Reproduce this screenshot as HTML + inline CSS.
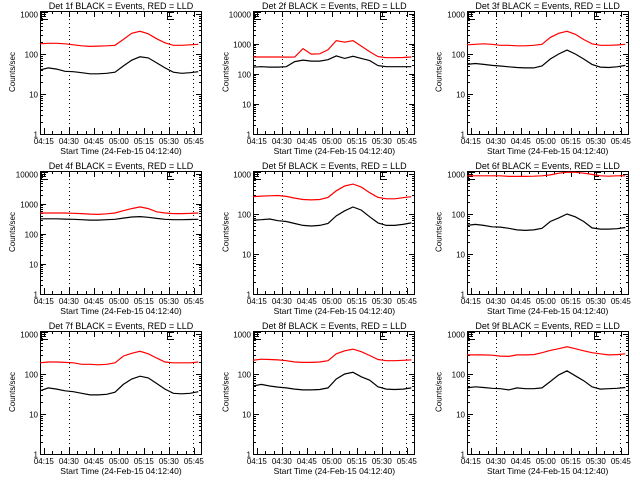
<!DOCTYPE html>
<html><head><meta charset="utf-8"><style>
html,body{margin:0;padding:0;background:#fff;}
svg text{font-family:"Liberation Sans",sans-serif;fill:#000;}
</style></head><body>
<svg id="chart" width="640" height="480" viewBox="0 0 640 480" xmlns="http://www.w3.org/2000/svg" shape-rendering="crispEdges">
<rect width="640" height="480" fill="#fff"/>
</svg>
<script>
// time samples: minutes after 04:12:40
const times = [0,5,10,15,20,25,30,35,40,45,50,55,60,65,70,75,80,85,90,95];
const xTickLabels = ["04:15","04:30","04:45","05:00","05:15","05:30","05:45"];
const xTickMinutes = [2.33,17.33,32.33,47.33,62.33,77.33,92.33];
const detNames = ["1f","2f","3f","4f","5f","6f","7f","8f","9f"];
const decades = [3,4,3,4,3,3,3,3,3];
const red1 = [180,185,185,180,170,160,155,158,160,165,230,330,370,320,240,190,165,165,170,175];
const blk1 = [40,45,42,37,36,34,32,32,33,35,50,70,85,80,60,45,35,33,34,36];
const red2 = [370,370,370,370,365,370,700,460,470,640,1300,1150,1300,850,550,380,350,350,355,370];
const blk2 = [170,175,170,170,175,260,290,270,270,300,400,330,390,330,280,190,175,175,175,175];
const red3 = [170,175,180,175,165,165,160,160,165,175,260,330,370,310,230,180,165,165,168,175];
const blk3 = [55,58,55,52,50,48,46,45,45,50,75,100,125,100,75,55,47,46,48,52];
const red4 = [500,500,500,500,490,480,460,450,470,500,600,700,800,700,550,500,480,480,485,500];
const blk4 = [320,320,320,315,310,300,290,290,300,310,340,370,380,360,330,310,300,300,305,310];
const red5 = [270,280,285,290,275,250,230,225,230,260,380,500,560,470,340,260,240,240,255,270];
const blk5 = [70,72,75,68,65,58,52,50,52,58,90,120,150,125,85,60,52,52,55,60];
const red6 = [900,900,900,900,900,870,870,870,880,900,950,1050,1100,1100,1050,980,900,880,900,900];
const blk6 = [52,55,52,48,47,44,40,39,40,44,65,80,100,85,65,45,42,42,43,46];
const red7 = [190,200,200,195,190,175,175,170,175,190,280,330,370,320,250,200,190,190,190,200];
const blk7 = [38,45,42,38,36,33,30,30,31,35,55,75,88,80,58,42,33,32,33,36];
const red8 = [220,235,230,225,215,200,195,195,200,215,320,380,420,360,290,230,215,215,220,225];
const blk8 = [50,55,50,47,45,42,40,40,41,45,75,100,110,85,70,48,42,41,42,45];
const red9 = [300,300,300,295,280,275,300,300,305,340,390,430,480,430,380,340,320,300,305,320];
const blk9 = [45,48,46,44,43,40,45,43,43,45,65,95,120,90,68,48,42,43,44,46];
const reds = [red1,red2,red3,red4,red5,red6,red7,red8,red9];
const blks = [blk1,blk2,blk3,blk4,blk5,blk6,blk7,blk8,blk9];
const dottedMinutes = [17.33,77.33,92];

const NS="http://www.w3.org/2000/svg";
const svg=document.getElementById('chart');
function mk(tag,attrs,parent){const e=document.createElementNS(NS,tag);for(const k in attrs)e.setAttribute(k,attrs[k]);(parent||svg).appendChild(e);return e;}

for(let p=0;p<9;p++){
  const col=p%3,row=Math.floor(p/3);
  const ox=col*213.33,oy=row*160;
  const L=Math.round(ox+40),R=Math.round(ox+201),T=oy+11,B=oy+134,Ytop=oy+14;
  const nd=decades[p];
  const xs=m=>L+(R-L)*m/96.6;
  const ys=v=>{let y=B-(B-Ytop)*Math.log10(v)/nd;return Math.max(T,Math.min(B,y));};
  const g=mk('g',{});
  
  
  const t=mk('text',{x:ox+121,y:oy+9,'font-size':'9','text-anchor':'middle'},g);
  
  
  t.textContent='Det '+detNames[p]+' BLACK = Events, RED = LLD';
  const box=mk('rect',{x:L+0.5,y:T+0.5,width:R-L,height:B-T,fill:'none',stroke:'#000','stroke-width':1},g);
  
  
  for(let d=0;d<=nd;d++){
    const v=Math.pow(10,d);const y=Math.round(ys(v))+0.5;
    mk('line',{x1:L,x2:L+6,y1:y,y2:y,stroke:'#000'},g);
    mk('line',{x1:R-5,x2:R+1,y1:y,y2:y,stroke:'#000'},g);
    const lb=mk('text',{x:L-2,y:y+3,'font-size':'8','text-anchor':'end'},g);
    
    
    lb.textContent=String(v);
    if(d<nd){for(let k=2;k<10;k++){const yy=Math.round(ys(v*k))+0.5;
      mk('line',{x1:L,x2:L+3,y1:yy,y2:yy,stroke:'#000'},g);
      mk('line',{x1:R-2,x2:R+1,y1:yy,y2:yy,stroke:'#000'},g);}}
  }
  for(let m=2.33;m<96.6;m+=5){const x=Math.round(xs(m))+0.5;
    const major=Math.abs(((m-2.33)/15)-Math.round((m-2.33)/15))<0.01;const len=major?6:3;
    mk('line',{x1:x,x2:x,y1:B,y2:B-len,stroke:'#000'},g);
    mk('line',{x1:x,x2:x,y1:T,y2:T+len,stroke:'#000'},g);}
  xTickLabels.forEach((s,i)=>{
    const lb=mk('text',{x:xs(xTickMinutes[i]),y:oy+144,'font-size':'8','text-anchor':'middle'},g);
    
    
    lb.textContent=s;});
  const xt=mk('text',{x:ox+121,y:oy+154,'font-size':'8.5','text-anchor':'middle'},g);
  
  
  xt.textContent='Start Time (24-Feb-15 04:12:40)';
  const yt=mk('text',{x:0,y:0,'font-size':'8','text-anchor':'middle',transform:'translate('+(ox+15)+','+(oy+72)+') rotate(-90)'},g);
  
  
  yt.textContent='Counts/sec';
  dottedMinutes.forEach(m=>{const x=Math.round(xs(m))+0.5;
    const dl=mk('line',{x1:x,x2:x,y1:T,y2:B,stroke:'#000','stroke-dasharray':'1,3'},g);
    
    });
  [L+1,Math.round(xs(76))].forEach(x=>{
    const e=mk('path',{d:'M'+(x+7)+' '+(T+1.5)+'H'+(x+0.5)+'V'+(T+8.5)+'H'+(x+7)+'M'+(x+0.5)+' '+(T+5.5)+'H'+(x+5),fill:'none',stroke:'#000'},g);
    
    });
  const ptsR=times.map((m,i)=>xs(m).toFixed(1)+','+ys(reds[p][i]).toFixed(1)).join(' ');
  const ptsB=times.map((m,i)=>xs(m).toFixed(1)+','+ys(blks[p][i]).toFixed(1)).join(' ');
  const lr=mk('polyline',{points:ptsR,fill:'none',stroke:'#ff0000','stroke-width':1.2,'shape-rendering':'auto'},g);
  
  
  const lbk=mk('polyline',{points:ptsB,fill:'none',stroke:'#000','stroke-width':1.2,'shape-rendering':'auto'},g);
  
  
}
</script>
</body></html>
